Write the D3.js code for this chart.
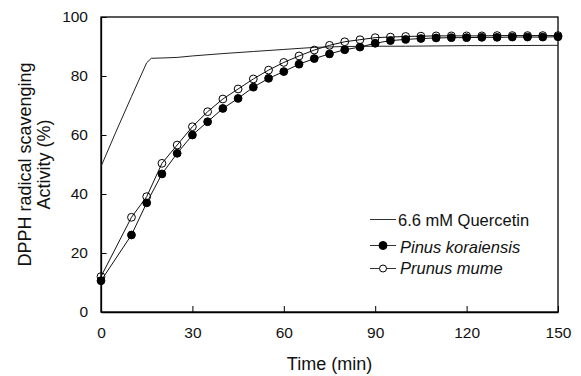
<!DOCTYPE html>
<html>
<head>
<meta charset="utf-8">
<script src="https://cdn.jsdelivr.net/npm/d3@7"></script>
<style>
    body { margin: 0; background: #fff; }
    svg { display: block; font-family: "Liberation Sans", Arial, sans-serif; }
</style>
</head>
<body>
<svg id="chart" width="581" height="376"></svg>
<script>
// time points (min)
const quercetinTime = [0, 5, 10, 15, 16.5, 20, 25, 30, 40, 50, 60, 70, 80, 90, 100, 110, 120, 130, 150];
const quercetinValues = [49.3, 61.3, 73, 84.5, 86, 86.1, 86.3, 86.8, 87.6, 88.3, 89, 89.7, 90, 90.1, 90.1, 90.2, 90.3, 90.3, 90.4];

const sampleTime = [0, 10, 15, 20, 25, 30, 35, 40, 45, 50, 55, 60, 65, 70, 75, 80, 85, 90, 95, 100, 105, 110, 115, 120, 125, 130, 135, 140, 145, 150];
const pinusValues = [10.6, 26.1, 37, 46.8, 53.8, 60, 64.5, 69, 72.4, 76.2, 79.2, 81.5, 84, 85.9, 87.5, 88.9, 89.8, 91.1, 92, 92.4, 92.7, 92.9, 93, 93, 93.1, 93.1, 93.2, 93.2, 93.2, 93.3];
const prunusValues = [12, 32.1, 39.1, 50.4, 56.6, 62.8, 67.9, 72.2, 75.6, 79, 82, 84.6, 86.8, 88.8, 90.4, 91.6, 92.3, 93, 93.2, 93.4, 93.5, 93.6, 93.6, 93.6, 93.6, 93.7, 93.7, 93.7, 93.7, 93.7];

const xTicks = [0, 30, 60, 90, 120, 150];
const yTicks = [0, 20, 40, 60, 80, 100];

const legendLabels = ["6.6 mM Quercetin", "Pinus koraiensis", "Prunus mume"];

const margin = { left: 101, right: 23, top: 17, bottom: 64 };
const width = 581, height = 376;

const svg = d3.select("#chart");

const x = d3.scaleLinear().domain([0, 150]).range([margin.left, width - margin.right]);
const y = d3.scaleLinear().domain([0, 100]).range([height - margin.bottom, margin.top]);

// frame
svg.append("rect")
    .attr("x", x(0))
    .attr("y", y(100))
    .attr("width", x(150) - x(0))
    .attr("height", y(0) - y(100))
    .attr("fill", "none")
    .attr("stroke", "#000")
    .attr("stroke-width", 1.3);

// axes with inward ticks
const xAxis = svg.append("g")
    .attr("transform", `translate(0,${y(0)})`)
    .call(d3.axisBottom(x).tickValues(xTicks).tickSizeInner(-6).tickSizeOuter(0).tickPadding(15));

const yAxis = svg.append("g")
    .attr("transform", `translate(${x(0)},0)`)
    .call(d3.axisLeft(y).tickValues(yTicks).tickSizeInner(-5.5).tickSizeOuter(0).tickPadding(13));

[xAxis, yAxis].forEach(ax => {
    ax.select(".domain").attr("stroke", "#000").attr("stroke-width", 1.3);
    ax.selectAll(".tick line").attr("stroke", "#000").attr("stroke-width", 1);
    ax.selectAll(".tick text")
        .attr("fill", "#111")
        .attr("font-size", "15.5px")
        .attr("font-family", "Liberation Sans, Arial, sans-serif");
});

// axis titles
svg.append("text")
    .attr("x", (x(0) + x(150)) / 2)
    .attr("y", 370)
    .attr("text-anchor", "middle")
    .attr("font-size", "18px")
    .attr("fill", "#111")
    .text("Time (min)");

const yTitle = svg.append("text")
    .attr("transform", `translate(0,${(y(0) + y(100)) / 2}) rotate(-90)`)
    .attr("text-anchor", "middle")
    .attr("font-size", "18px")
    .attr("fill", "#111");
yTitle.append("tspan").attr("x", 0).attr("y", 31).text("DPPH radical scavenging");
yTitle.append("tspan").attr("x", 0).attr("y", 50).text("Activity (%)");

const line = d3.line()
    .x(d => x(d[0]))
    .y(d => y(d[1]));

// quercetin line
svg.append("path")
    .datum(d3.zip(quercetinTime, quercetinValues))
    .attr("d", line)
    .attr("fill", "none")
    .attr("stroke", "#222")
    .attr("stroke-width", 1);

// sample series
const series = [
    { values: pinusValues, fill: "#000" },
    { values: prunusValues, fill: "#fff" }
];

series.forEach(s => {
    const pts = d3.zip(sampleTime, s.values);
    svg.append("path")
        .datum(pts)
        .attr("d", line)
        .attr("fill", "none")
        .attr("stroke", "#111")
        .attr("stroke-width", 1);
});

// markers drawn after lines, open circles on top
[series[0], series[1]].forEach(s => {
    svg.append("g")
        .selectAll("circle")
        .data(d3.zip(sampleTime, s.values))
        .join("circle")
        .attr("cx", d => x(d[0]))
        .attr("cy", d => y(d[1]))
        .attr("r", 3.9)
        .attr("fill", s.fill)
        .attr("fill-opacity", s.fill === "#fff" ? 0 : 1)
        .attr("stroke", "#000")
        .attr("stroke-width", 1);
});

// legend
const legendRows = [
    { y: 219.5, textY: 226, marker: null },
    { y: 245.5, textY: 253, marker: "#000" },
    { y: 268.5, textY: 273.5, marker: "#fff" }
];

legendRows.forEach((row, i) => {
    svg.append("line")
        .attr("x1", 370)
        .attr("x2", 396)
        .attr("y1", row.y)
        .attr("y2", row.y)
        .attr("stroke", "#333")
        .attr("stroke-width", 1);

    if (row.marker) {
        svg.append("circle")
            .attr("cx", 383)
            .attr("cy", row.y)
            .attr("r", row.marker === "#000" ? 4 : 3.5)
            .attr("fill", row.marker)
            .attr("stroke", "#000")
            .attr("stroke-width", 1);
    }

    svg.append("text")
        .attr("x", i === 0 ? 398 : 400)
        .attr("y", row.textY)
        .attr("font-size", "16.5px")
        .attr("font-style", i === 0 ? "normal" : "italic")
        .attr("fill", "#111")
        .text(legendLabels[i]);
});
</script>
</body>
</html>
